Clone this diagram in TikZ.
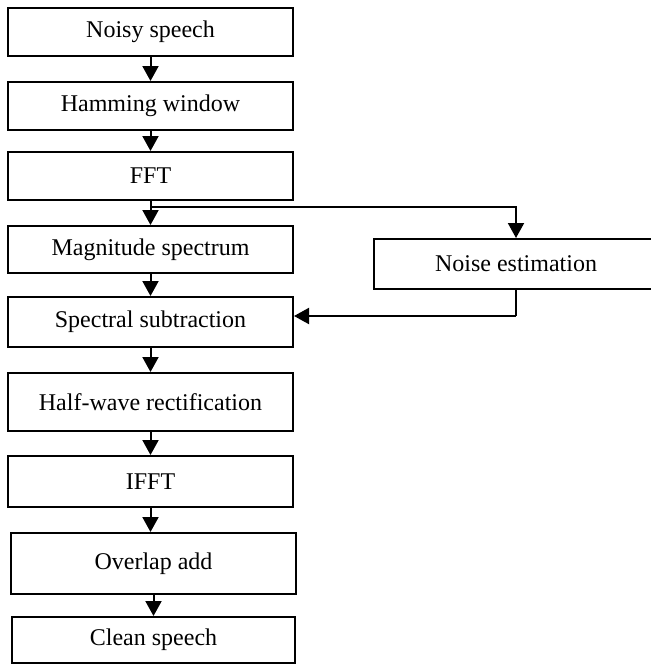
\documentclass[tikz,border=0pt]{standalone}
\usepackage{fontspec}
\setmainfont{Liberation Serif}
\usetikzlibrary{arrows.meta,positioning,calc}

\begin{document}
\begin{tikzpicture}
[x=0.5pt,y=-0.5pt,
    blk/.style={draw,line width=1pt,inner sep=0pt,minimum width=142.5pt,
    minimum height=24pt,font=\fontsize{12}{14}\selectfont},
    arr/.style={line width=1pt,-{Triangle[length=7.5pt,width=8pt]}},
    ln/.style={line width=1pt}]
\useasboundingbox (0,0) rectangle (651,664);
%% main chain
\node (ns) [blk] at (150.5,32) {Noisy speech};
\node (hw) [blk] at (150.5,106) {Hamming window};
\node (fft) [blk] at (150.5,176) {FFT};
\node (mag) [blk,minimum height=23.5pt] at (150.5,249.5) {Magnitude spectrum};
\node (ss) [blk,minimum height=25pt] at (150.5,322) {Spectral subtraction};
\node (hr) [blk,minimum height=29pt] at (150.5,402) {Half-wave rectification};
\node (ifft) [blk,minimum height=25.5pt] at (150.5,481.5) {IFFT};
\node (ola) [blk,minimum height=30.5pt] at (153.5,563.5) {Overlap add};
\node (cs) [blk,minimum width=141.5pt,minimum height=23pt] at (153.5,640) {Clean speech};
%% noise branch
\node (ne) [blk,minimum width=142pt,minimum height=25pt] at (516,264) {Noise estimation};
\coordinate (br) at (152,207);
\coordinate (rt) at (516,316);
%% edges
\draw[arr] (ns.south) -- (ns.south |- hw.north);
\draw[arr] (hw.south) -- (hw.south |- fft.north);
\draw[arr] (fft.south) -- (fft.south |- mag.north);
\draw[arr] (mag.south) -- (mag.south |- ss.north);
\draw[arr] (ss.south) -- (ss.south |- hr.north);
\draw[arr] (hr.south) -- (hr.south |- ifft.north);
\draw[arr] (ifft.south) -- (ifft.south |- ola.north);
\draw[arr] (ola.south) -- (ola.south |- cs.north);
%%
\draw[arr] (fft.south |- br) -| (ne.north);
\draw[ln] (ne.south) -- (rt);
\draw[arr] (rt) -- (rt -| ss.east);
\end{tikzpicture}
\end{document}
